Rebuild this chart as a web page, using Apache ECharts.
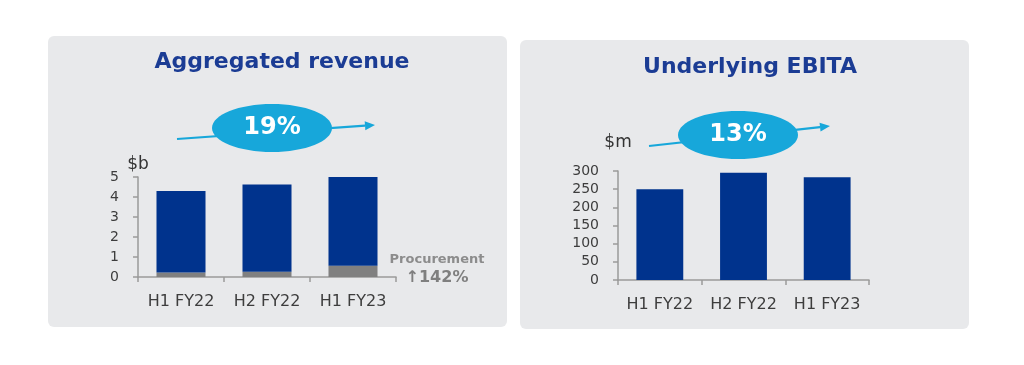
<!DOCTYPE html>
<html>
<head>
<meta charset="utf-8">
<script src="https://cdn.jsdelivr.net/npm/echarts@6/dist/echarts.min.js"></script>
<style>
html,body{margin:0;padding:0;background:#ffffff;}
#c{width:1024px;height:365px;}
</style>
</head>
<body>
<div id="c"></div>
<script>
// ---- data ----
var categories = ['H1 FY22', 'H2 FY22', 'H1 FY23'];
var revenueProcurement = [0.23, 0.26, 0.56];
var revenueOther = [4.07, 4.37, 4.44];
var ebita = [250, 295, 283];
var revenueTicks = [0, 1, 2, 3, 4, 5];
var ebitaTicks = [0, 50, 100, 150, 200, 250, 300];
var revenueGrowth = '19%';
var ebitaGrowth = '13%';
var procurementLabel = 'Procurement';
var procurementGrowth = '142%';

var navy = '#00338d';
var titleColor = '#1b3c94';
var cyan = '#17a7da';
var axisColor = '#9a9a9a';
var labelColor = '#3d3d3d';
var font = '"DejaVu Sans", sans-serif';

var chart = echarts.init(document.getElementById('c'));

function yAxis(gridIndex, ticks, name, nameGap) {
  return {
    type: 'value', gridIndex: gridIndex,
    min: ticks[0], max: ticks[ticks.length - 1], interval: ticks[1] - ticks[0],
    name: name, nameLocation: 'end', nameGap: nameGap,
    nameTextStyle: {color: '#333', fontSize: 17, fontFamily: font, align: 'center'},
    axisLine: {show: true, lineStyle: {color: axisColor, width: 1.5}},
    axisTick: {show: true, length: 5, lineStyle: {color: axisColor, width: 1.5}},
    splitLine: {show: false},
    axisLabel: {color: labelColor, fontSize: 14, fontFamily: font, margin: 19}
  };
}
function xAxis(gridIndex) {
  return {
    type: 'category', gridIndex: gridIndex, data: categories,
    axisLine: {show: true, lineStyle: {color: axisColor, width: 1.5}},
    axisTick: {show: true, length: 5, alignWithLabel: false, lineStyle: {color: axisColor, width: 1.5}},
    axisLabel: {color: labelColor, fontSize: 16, fontFamily: font, margin: 17, interval: 0}
  };
}

function ellipseGroup(cx, cy, text) {
  return {
    type: 'group', children: [
      {type: 'ellipse', shape: {cx: cx, cy: cy, rx: 60, ry: 24}, style: {fill: cyan}},
      {type: 'text', x: cx, y: cy, style: {text: text, fill: '#ffffff', font: 'bold 24px "DejaVu Sans", sans-serif', textAlign: 'center', textVerticalAlign: 'middle'}}
    ]
  };
}
function arrow(x1, y1, x2, y2) {
  var ang = Math.atan2(y2 - y1, x2 - x1);
  var L = 10, W = 4.5;
  var bx = x2 - L * Math.cos(ang), by = y2 - L * Math.sin(ang);
  var px = -Math.sin(ang) * W, py = Math.cos(ang) * W;
  return {
    type: 'group', children: [
      {type: 'line', shape: {x1: x1, y1: y1, x2: bx, y2: by}, style: {stroke: cyan, lineWidth: 2.2}},
      {type: 'polygon', shape: {points: [[x2, y2], [bx + px, by + py], [bx - px, by - py]]}, style: {fill: cyan}}
    ]
  };
}

chart.setOption({
  animation: false,
  backgroundColor: '#ffffff',
  title: [
    {text: 'Aggregated revenue', left: 277, top: 46, textAlign: 'center',
     textStyle: {color: titleColor, fontSize: 22, fontWeight: 'bold', fontFamily: font}},
    {text: 'Underlying EBITA', left: 745, top: 51, textAlign: 'center',
     textStyle: {color: titleColor, fontSize: 22, fontWeight: 'bold', fontFamily: font}}
  ],
  graphic: [
    {type: 'rect', z: -10, shape: {x: 48, y: 36, width: 459, height: 291, r: 6}, style: {fill: '#e8e9eb'}},
    {type: 'rect', z: -10, shape: {x: 520, y: 40, width: 449, height: 289, r: 6}, style: {fill: '#e8e9eb'}},
    arrow(177, 139, 375, 125),
    ellipseGroup(272, 128, revenueGrowth),
    arrow(649, 146, 830, 126),
    ellipseGroup(738, 135, ebitaGrowth),
    {type: 'text', x: 437, y: 260, style: {text: procurementLabel, fill: '#8c8c8c', font: 'bold 13px "DejaVu Sans", sans-serif', textAlign: 'center', textVerticalAlign: 'middle'}},
    {type: 'text', x: 437, y: 278, style: {text: '\u2191' + procurementGrowth, fill: '#7f7f7f', font: 'bold 16px "DejaVu Sans", sans-serif', textAlign: 'center', textVerticalAlign: 'middle'}}
  ],
  grid: [
    {left: 138, right: 628, top: 177, bottom: 88},
    {left: 618, right: 155, top: 171, bottom: 85}
  ],
  xAxis: [xAxis(0), xAxis(1)],
  yAxis: [yAxis(0, revenueTicks, '$b', 4), yAxis(1, ebitaTicks, '$m', 20)],
  series: [
    {type: 'bar', xAxisIndex: 0, yAxisIndex: 0, stack: 'rev', data: revenueProcurement, barWidth: '57%',
     itemStyle: {color: '#808080'}},
    {type: 'bar', xAxisIndex: 0, yAxisIndex: 0, stack: 'rev', data: revenueOther, barWidth: '57%',
     itemStyle: {color: navy}},
    {type: 'bar', xAxisIndex: 1, yAxisIndex: 1, data: ebita, barWidth: '56%',
     itemStyle: {color: navy}}
  ]
});
</script>
</body>
</html>
